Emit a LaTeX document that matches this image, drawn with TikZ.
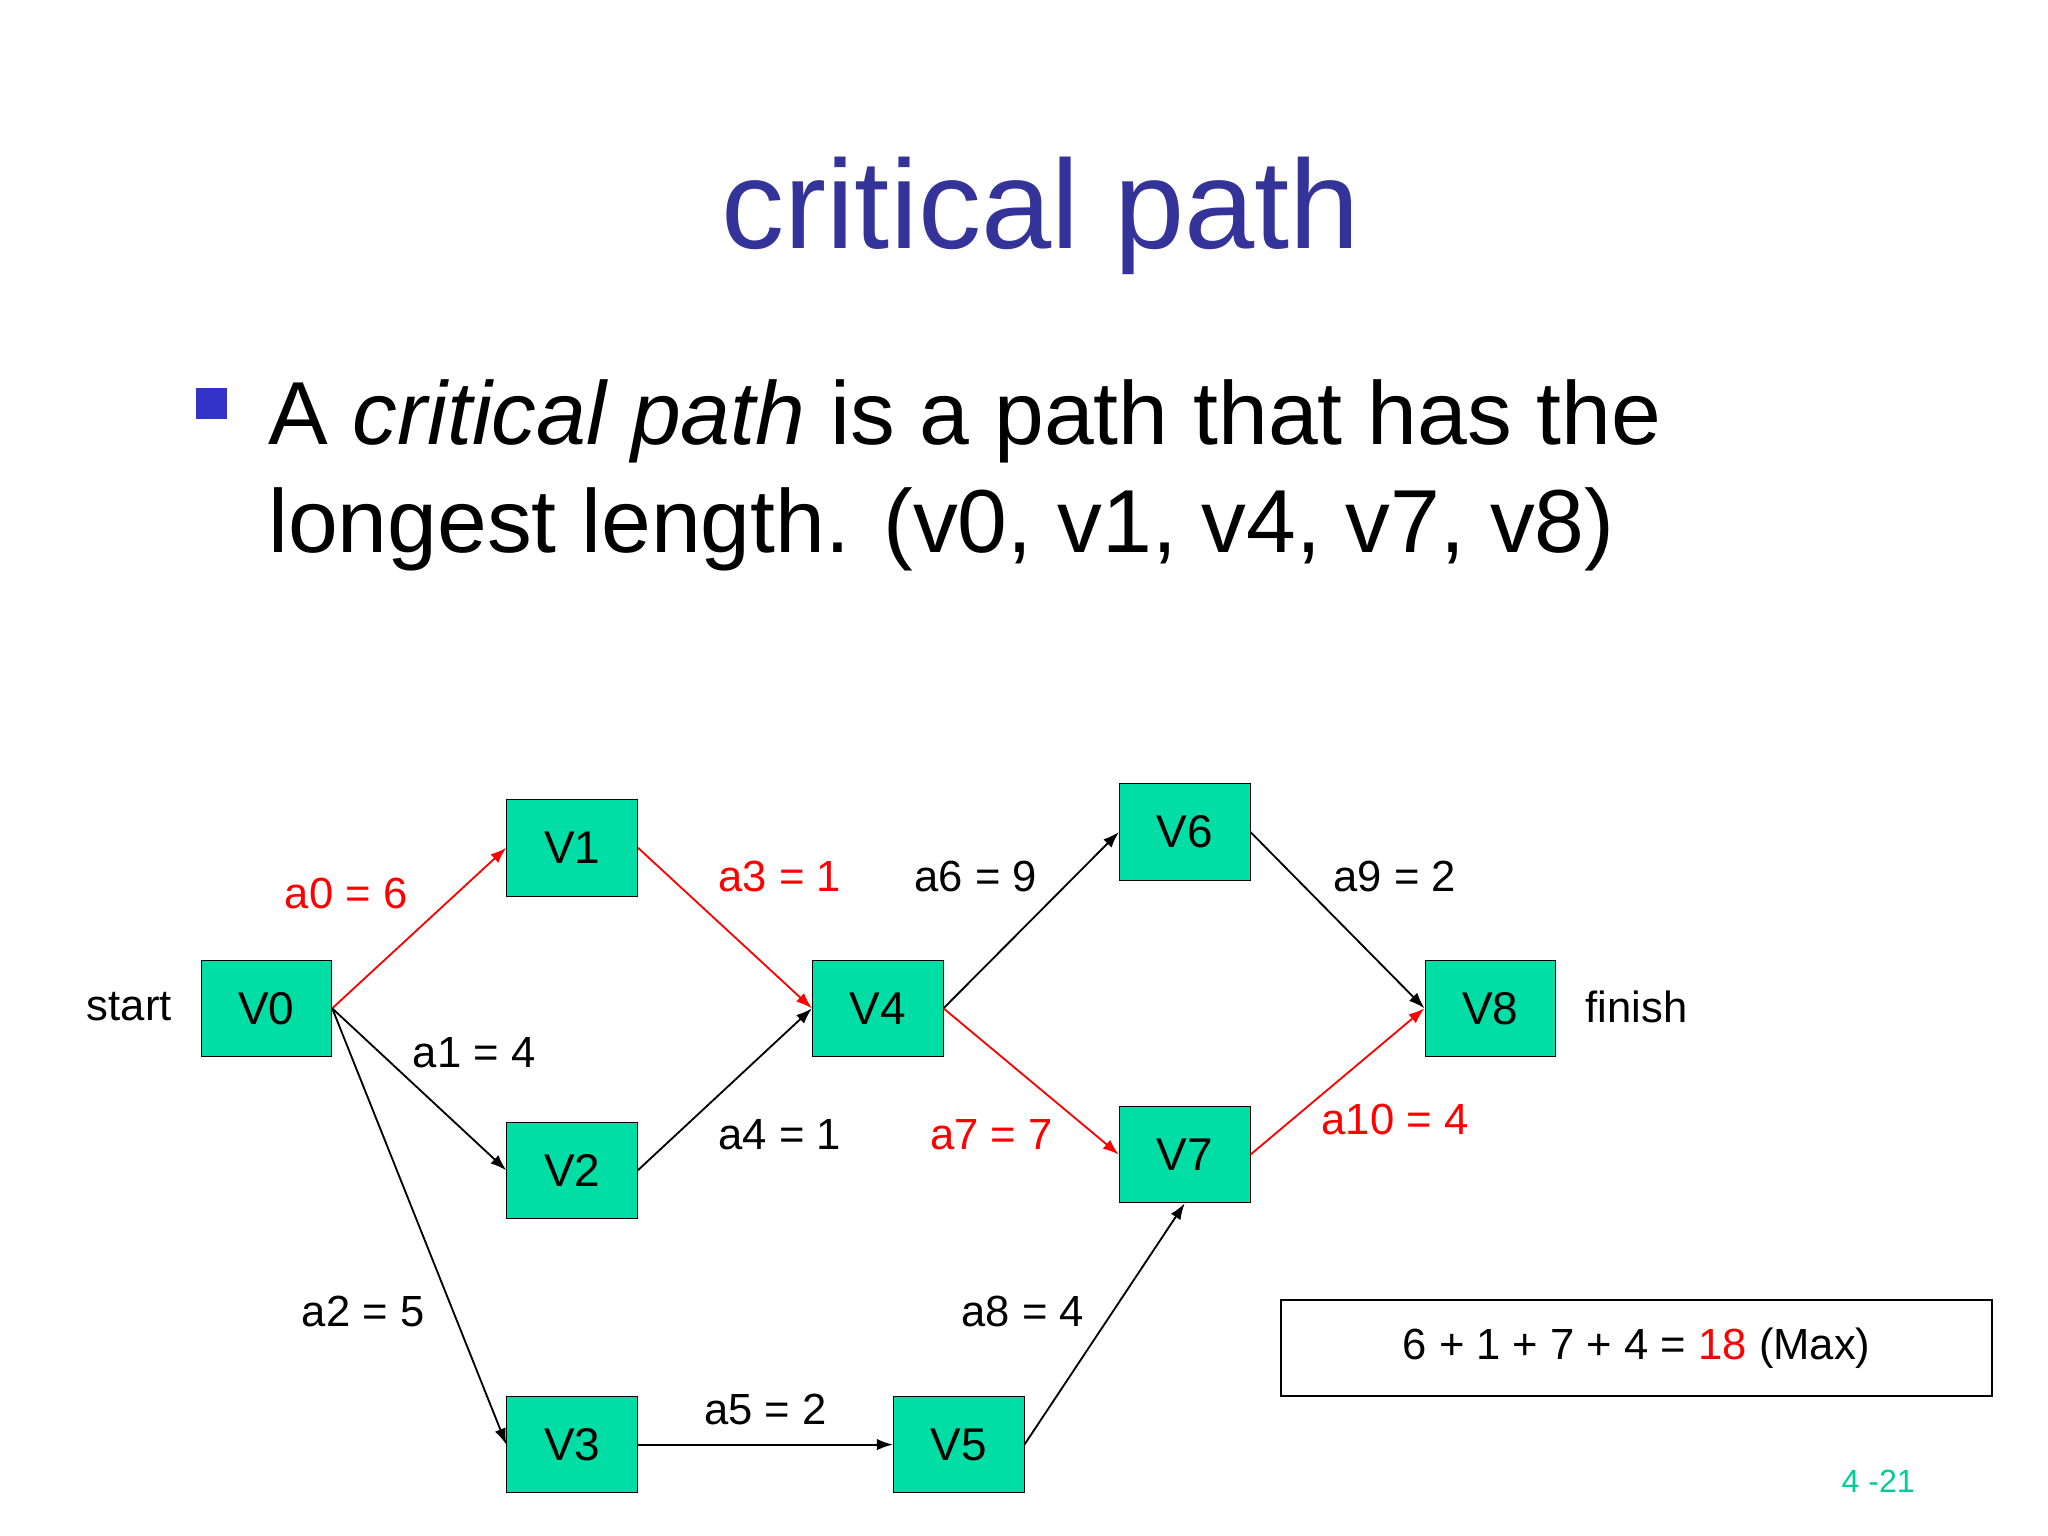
\documentclass[tikz,border=0pt]{standalone}
\usepackage{fontspec}
\setmainfont{Liberation Sans}
\usetikzlibrary{arrows.meta}
\definecolor{titleblue}{RGB}{51,51,153}
\definecolor{bulletblue}{RGB}{51,51,204}
\definecolor{vfill}{RGB}{0,222,165}
\definecolor{pgnum}{RGB}{0,204,153}
\tikzset{
  vbox/.style={draw,fill=vfill,minimum width=100*0.02cm,minimum height=74*0.02cm,inner sep=0pt,font=\fontsize{20}{22}\selectfont},
  edge/.style={-{Latex[length=7pt,width=5pt]},line width=0.8pt},
  crit/.style={edge,red},
  lbl/.style={font=\fontsize{19}{21}\selectfont},
  rlbl/.style={lbl,text=red}
}
\begin{document}
\begin{tikzpicture}[x=0.02cm,y=-0.02cm]
\useasboundingbox (0,0) rectangle (1568,1176);
\node[text=titleblue,font=\fontsize{55}{60}\selectfont] (title) at (797,165) {critical path};
\node[fill=bulletblue,minimum size=24*0.02cm,inner sep=0pt] (bul) at (162,309) {};
\node[anchor=base west,inner sep=0pt,font=\fontsize{39}{44}\selectfont] (l1) at (205,340) {A \textit{critical path} is a path that has the};
\node[anchor=base west,inner sep=0pt,font=\fontsize{39}{44}\selectfont] (l2) at (205,423) {longest length. (v0, v1, v4, v7, v8)};
\node[vbox] (V0) at (204,772) {V0};
\node[vbox] (V1) at (438,649) {V1};
\node[vbox] (V2) at (438,896) {V2};
\node[vbox] (V3) at (438,1106) {V3};
\node[vbox] (V4) at (672,772) {V4};
\node[vbox] (V5) at (734,1106) {V5};
\node[vbox] (V6) at (907,637) {V6};
\node[vbox] (V7) at (907,884) {V7};
\node[vbox] (V8) at (1141,772) {V8};
\draw[crit] (V0.east) -- (V1.west);
\draw[edge] (V0.east) -- (V2.west);
\draw[edge] (V0.east) -- (V3.west);
\draw[crit] (V1.east) -- (V4.west);
\draw[edge] (V2.east) -- (V4.west);
\draw[edge] (V3.east) -- (V5.west);
\draw[edge] (V4.east) -- (V6.west);
\draw[crit] (V4.east) -- (V7.west);
\draw[edge] (V5.east) -- (V7.south);
\draw[edge] (V6.east) -- (V8.west);
\draw[crit] (V7.east) -- (V8.west);
\node[lbl] (st) at (99,771) {start};
\node[lbl] (fi) at (1253,771) {finish};
\node[rlbl] (a0) at (265,684) {a0 = 6};
\node[lbl] (a1) at (363,806) {a1 = 4};
\node[lbl] (a2) at (278,1004) {a2 = 5};
\node[rlbl] (a3) at (597,671) {a3 = 1};
\node[lbl] (a4) at (597,869) {a4 = 1};
\node[lbl] (a5) at (586,1079) {a5 = 2};
\node[lbl] (a6) at (747,671) {a6 = 9};
\node[rlbl] (a7) at (759,869) {a7 = 7};
\node[lbl] (a8) at (783,1004) {a8 = 4};
\node[lbl] (a9) at (1068,671) {a9 = 2};
\node[rlbl] (a10) at (1068,857) {a10 = 4};
\node[draw,line width=0.8pt,minimum width=544*0.02cm,minimum height=73*0.02cm,lbl] (sum) at (1253,1032) {6 + 1 + 7 + 4 = \textcolor{red}{18} (Max)};
\node[text=pgnum,font=\fontsize{14}{16}\selectfont] (pg) at (1438,1134) {4 -21};
\end{tikzpicture}
\end{document}
